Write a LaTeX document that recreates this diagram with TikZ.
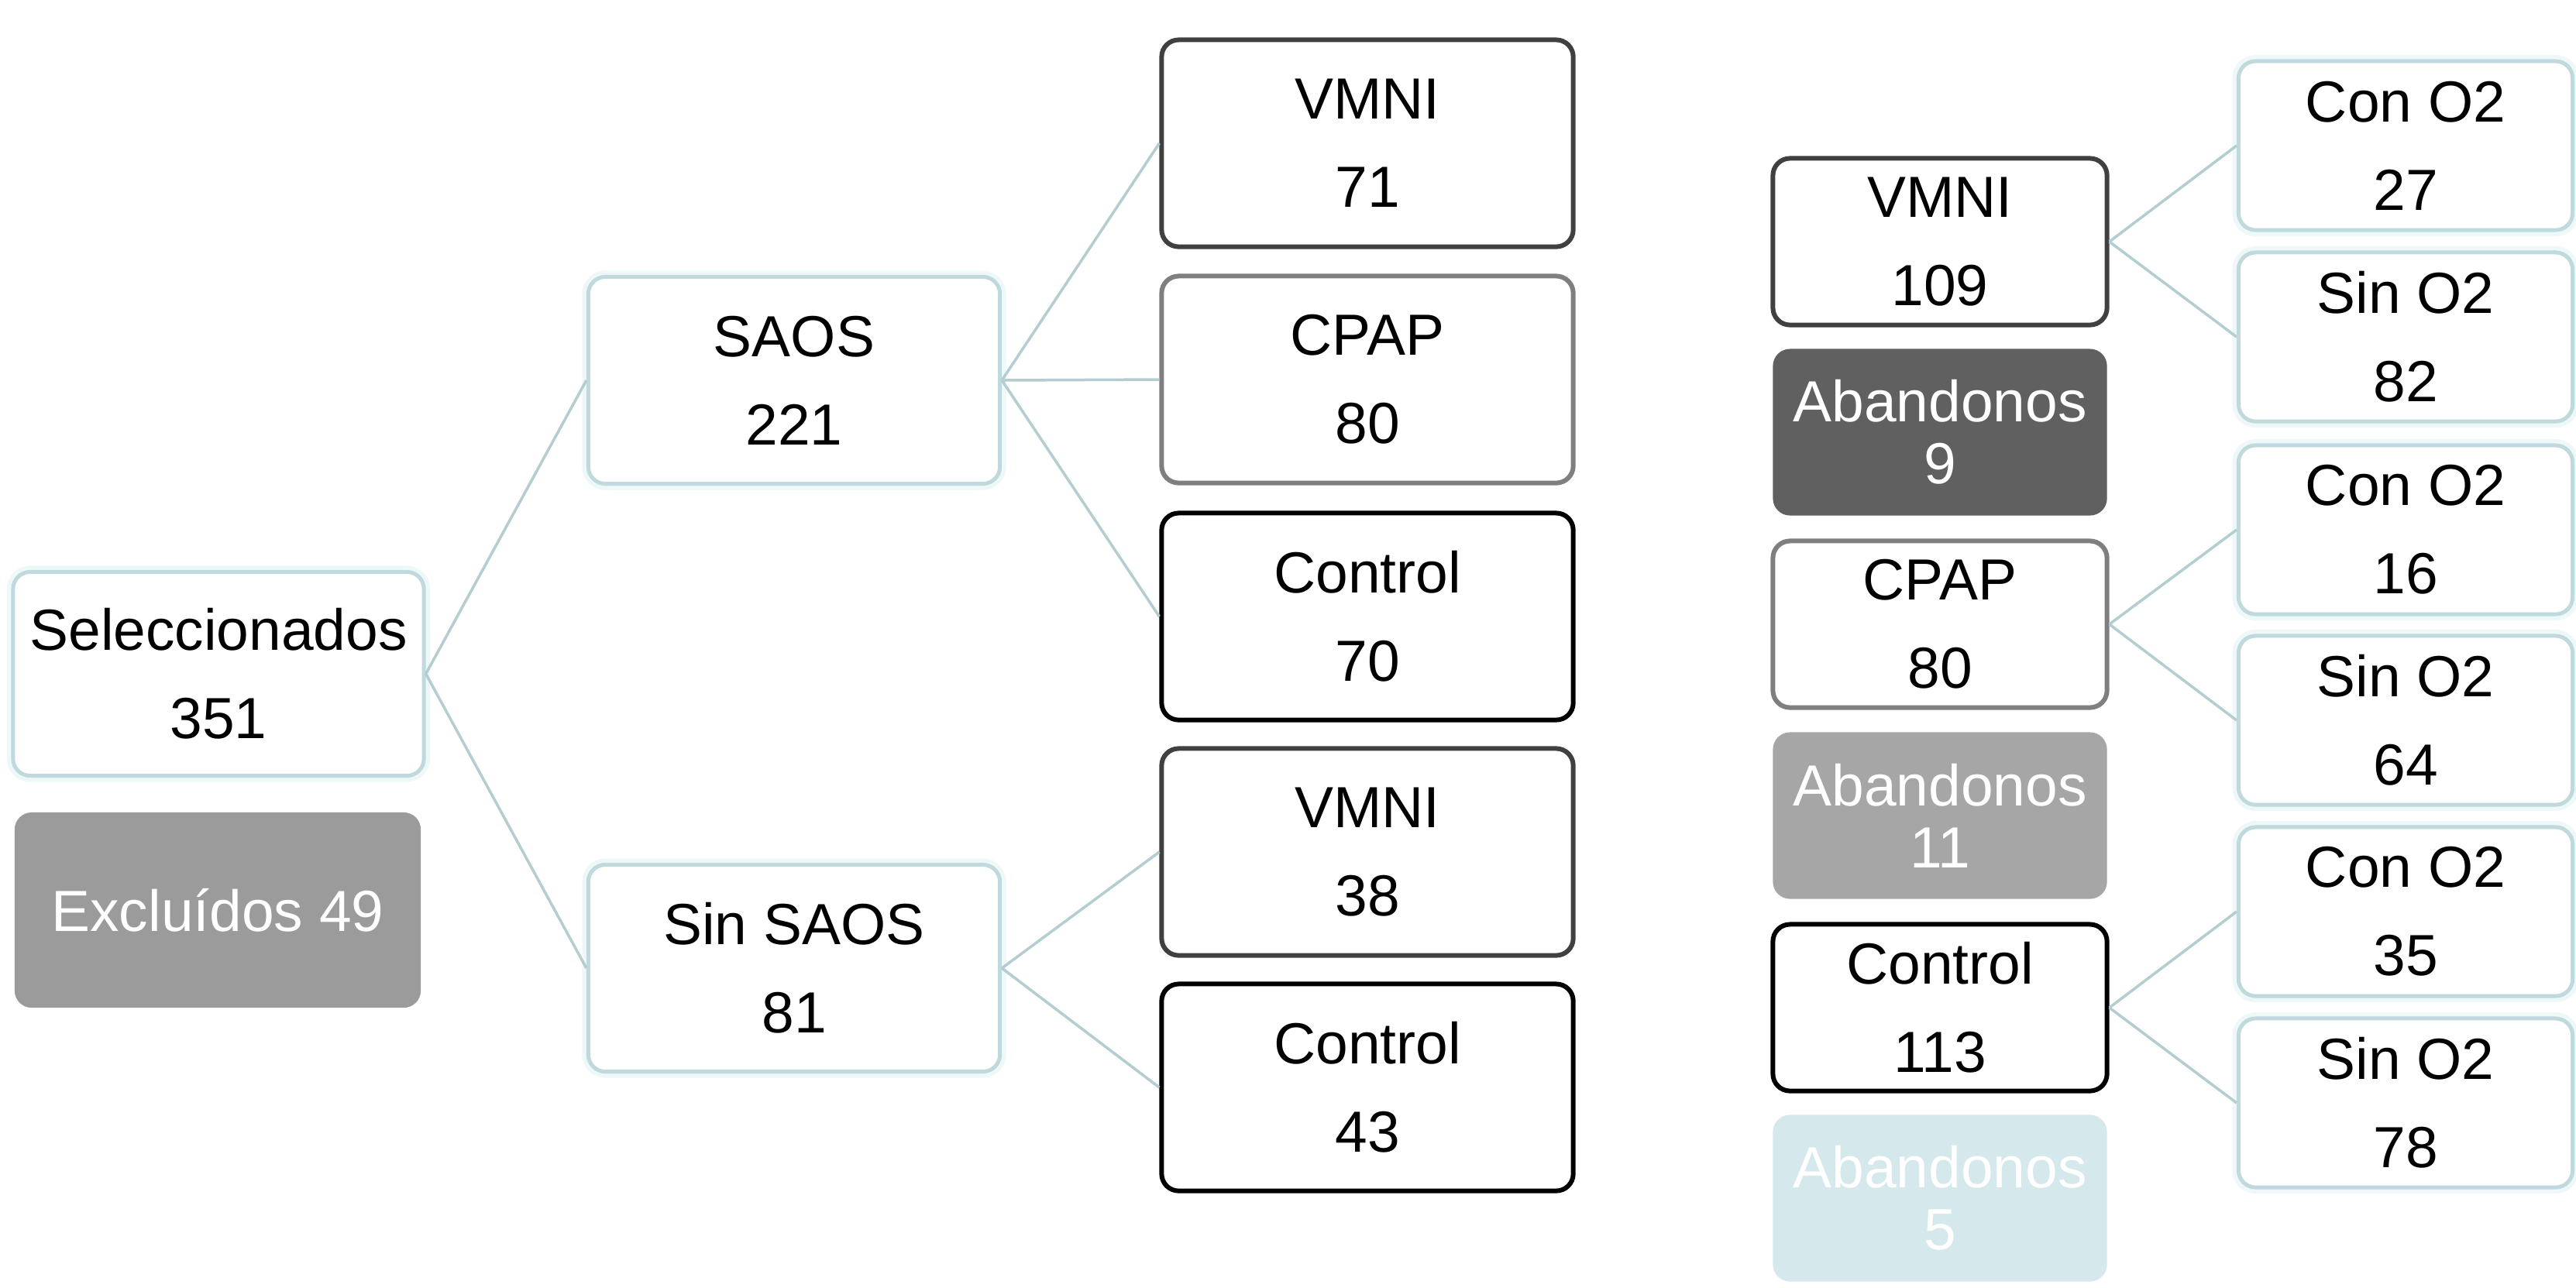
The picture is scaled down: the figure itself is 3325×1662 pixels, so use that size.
\documentclass[tikz,border=0pt]{standalone}
\usepackage{fontspec}
\setmainfont{Liberation Sans}
\definecolor{tealb}{HTML}{BFD9DC}
\definecolor{glow}{HTML}{EEF8F9}
\definecolor{connc}{HTML}{B3CDD1}
\definecolor{dk}{HTML}{404040}
\definecolor{md}{HTML}{7F7F7F}
\definecolor{excl}{HTML}{9B9B9B}
\definecolor{abA}{HTML}{606060}
\definecolor{abB}{HTML}{A6A6A6}
\definecolor{abC}{HTML}{D5E8EC}
\begin{document}
\begin{tikzpicture}[x=0.01cm,y=-0.01cm,
 boxbase/.style={rectangle, rounded corners=0.22cm, align=center, inner sep=0pt,
   font=\fontsize{21.3pt}{32.4pt}\selectfont},
 bigbox/.style={boxbase, minimum width=5.31cm, minimum height=2.67cm},
 smallbox/.style={boxbase, minimum width=4.31cm, minimum height=2.15cm},
 tealbox/.style={draw=tealb, line width=0.05cm, fill=white,
   preaction={draw=glow, line width=0.16cm}},
 darkbox/.style={draw=dk, line width=0.06cm, fill=white},
 midbox/.style={draw=md, line width=0.06cm, fill=white},
 blackbox/.style={draw=black, line width=0.06cm, fill=white},
 aband/.style={smallbox, text=white, font=\fontsize{21.3pt}{22.7pt}\selectfont},
 link/.style={draw=connc, line width=0.035cm},
]
\useasboundingbox[fill=white] (0,0) rectangle (3325,1662);

% left part
\node[bigbox, tealbox, minimum width=5.30cm, minimum height=2.63cm] (sel) at (282,870) {Seleccionados\\351};
\node[bigbox, fill=excl, text=white, minimum width=5.24cm, minimum height=2.52cm] (exc) at (281,1175) {Excluídos 49};

\node[bigbox, tealbox] (saos) at (1025,491) {SAOS\\221};
\node[bigbox, tealbox] (sinsaos) at (1025,1250) {Sin SAOS\\81};

\node[bigbox, darkbox] (vmniA) at (1765,185) {VMNI\\71};
\node[bigbox, midbox] (cpapA) at (1765,490) {CPAP\\80};
\node[bigbox, blackbox] (ctrlA) at (1765,796) {Control\\70};
\node[bigbox, darkbox] (vmniB) at (1765,1100) {VMNI\\38};
\node[bigbox, blackbox] (ctrlB) at (1765,1404) {Control\\43};

% right part
\node[smallbox, darkbox] (vmniC) at (2504,312) {VMNI\\109};
\node[aband, fill=abA] (abA) at (2504,558) {Abandonos\\9};
\node[smallbox, midbox] (cpapC) at (2504,806) {CPAP\\80};
\node[aband, fill=abB] (abB) at (2504,1053) {Abandonos\\11};
\node[smallbox, blackbox] (ctrlC) at (2504,1301) {Control\\113};
\node[aband, fill=abC] (abC) at (2504,1547) {Abandonos\\5};

\node[smallbox, tealbox, minimum height=2.18cm] (conA) at (3105,188) {Con O2\\27};
\node[smallbox, tealbox, minimum height=2.18cm] (sinA) at (3105,435) {Sin O2\\82};
\node[smallbox, tealbox, minimum height=2.18cm] (conB) at (3105,684) {Con O2\\16};
\node[smallbox, tealbox, minimum height=2.18cm] (sinB) at (3105,930) {Sin O2\\64};
\node[smallbox, tealbox, minimum height=2.18cm] (conC) at (3105,1177) {Con O2\\35};
\node[smallbox, tealbox, minimum height=2.18cm] (sinC) at (3105,1424) {Sin O2\\78};

% connectors
\draw[link] (sel.east) -- (saos.west);
\draw[link] (sel.east) -- (sinsaos.west);
\draw[link] (saos.east) -- (vmniA.west);
\draw[link] (saos.east) -- (cpapA.west);
\draw[link] (saos.east) -- (ctrlA.west);
\draw[link] (sinsaos.east) -- (vmniB.west);
\draw[link] (sinsaos.east) -- (ctrlB.west);
\draw[link] (vmniC.east) -- (conA.west);
\draw[link] (vmniC.east) -- (sinA.west);
\draw[link] (cpapC.east) -- (conB.west);
\draw[link] (cpapC.east) -- (sinB.west);
\draw[link] (ctrlC.east) -- (conC.west);
\draw[link] (ctrlC.east) -- (sinC.west);
\end{tikzpicture}
\end{document}
